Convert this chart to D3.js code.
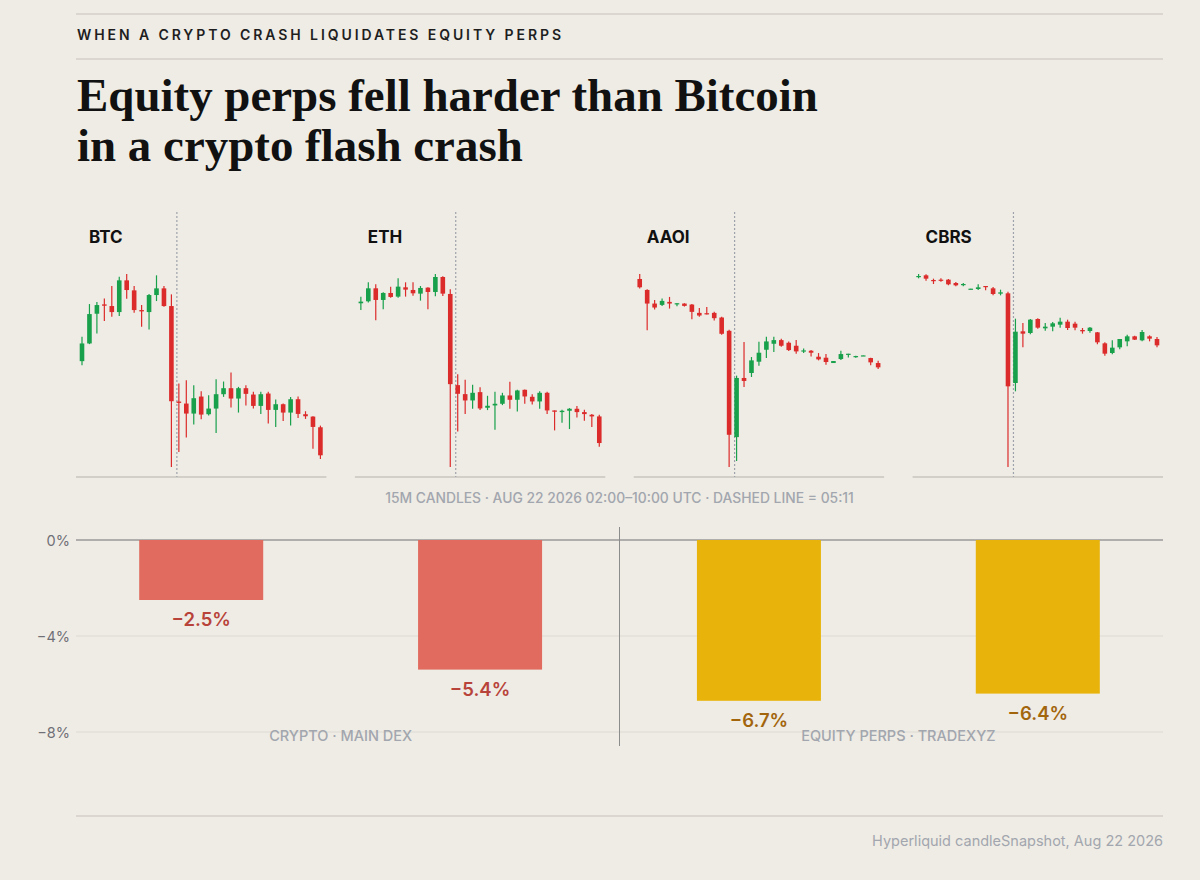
<!DOCTYPE html>
<html>
<head>
<meta charset="utf-8">
<script src="https://cdn.jsdelivr.net/npm/d3@7"></script>
<style>
  body { margin: 0; background: #efece5; }
  svg { display: block; }
</style>
</head>
<body>
<svg id="chart" width="1200" height="880"></svg>
<script>
// Tickers shown in the candle panels and the bar chart
var tickers = ["BTC", "ETH", "AAOI", "CBRS"];
var tickerGroup = ["crypto", "crypto", "equity", "equity"];

// 15m candles from 02:00 UTC, [open, high, low, close] (relative price level)
var btcCandles = [
  [51.7,59.0,50.5,57.0],[57.0,68.8,56.8,65.8],[65.9,69.4,60.0,68.5],[68.7,70.5,63.7,68.3],
  [68.2,74.2,65.0,66.4],[66.4,77.0,65.2,75.9],[75.9,77.8,70.4,73.0],[72.9,74.2,66.2,67.0],
  [67.0,68.5,62.0,66.6],[66.4,71.8,61.2,71.5],[71.5,77.4,69.7,73.5],[73.5,74.2,68.0,68.2],
  [68.2,71.7,20.0,39.7],[39.6,45.0,24.5,39.2],[39.0,46.0,28.8,36.0],[36.0,44.5,32.7,40.6],
  [41.1,42.7,34.3,35.7],[35.8,41.5,35.4,37.5],[37.5,46.3,30.2,41.8],[41.8,45.6,41.0,43.6],
  [43.6,48.3,37.8,40.5],[40.5,44.0,36.3,43.6],[43.6,44.5,38.4,41.9],[41.7,42.5,37.5,38.3],
  [38.3,42.5,35.9,41.8],[42.0,42.5,33.0,37.1],[37.1,40.2,32.0,38.8],[38.8,39.0,33.8,36.3],
  [36.3,41.0,32.4,40.3],[40.3,41.1,34.7,35.9],[35.8,36.7,34.4,35.2],[35.1,35.2,25.5,32.0],
  [31.9,32.4,22.4,23.5]
];
var ethCandles = [
  [69.0,71.0,67.0,69.5],[69.6,75.3,69.2,73.5],[73.5,74.7,63.9,70.0],[70.0,72.3,67.2,72.1],
  [72.1,74.0,70.7,70.9],[71.0,76.5,70.7,74.0],[73.8,75.3,71.0,73.1],[73.0,75.3,71.3,72.0],
  [71.9,74.2,69.8,73.6],[73.7,73.8,67.2,72.4],[72.4,77.8,71.1,76.9],[76.9,77.1,71.2,71.9],
  [71.8,73.2,19.8,44.7],[44.4,47.7,30.5,41.8],[41.7,46.0,35.7,39.8],[39.8,44.5,37.3,42.1],
  [42.3,43.8,36.9,37.4],[37.6,41.2,36.9,38.2],[38.3,42.4,31.0,38.8],[38.8,42.1,38.4,41.3],
  [41.3,45.4,37.3,40.0],[40.0,43.0,36.5,42.8],[43.0,43.1,38.8,41.0],[40.9,41.7,38.6,39.5],
  [39.5,42.6,37.3,42.1],[42.1,42.4,35.7,36.8],[36.8,36.8,30.8,36.4],[36.3,37.0,33.1,36.7],
  [36.7,37.5,31.2,37.3],[37.3,38.1,34.7,36.3],[36.3,37.0,33.7,35.7],[35.5,35.7,31.8,35.0],
  [35.0,35.5,25.9,27.0]
];
var aaoiCandles = [
  [76.3,77.8,73.4,73.8],[73.0,73.2,60.9,68.9],[68.9,70.0,67.1,67.7],[68.5,70.4,68.2,69.7],
  [69.4,70.9,67.4,68.9],[68.7,69.0,68.1,69.0],[68.9,69.0,68.0,68.2],[68.6,68.8,64.2,66.4],
  [66.1,67.6,64.9,65.3],[66.0,67.9,65.6,65.8],[66.1,66.4,63.8,64.5],[64.7,64.9,59.5,59.8],
  [60.7,61.0,19.7,29.4],[28.7,47.2,21.5,46.5],[46.5,57.3,43.8,45.6],[48.0,52.8,46.8,51.8],
  [51.4,57.4,50.2,54.1],[55.0,58.9,52.5,57.5],[56.8,58.9,54.3,57.9],[57.9,58.3,55.9,56.2],
  [57.1,57.5,54.6,54.9],[56.2,57.9,53.8,54.5],[54.5,55.4,54.0,54.8],[54.7,54.9,53.0,54.1],
  [52.9,54.0,51.8,52.1],[52.6,53.7,50.5,51.3],[51.0,51.6,51.0,51.6],[52.2,54.7,51.9,53.7],
  [53.5,53.8,52.7,53.8],[52.8,53.2,52.6,53.1],[53.1,53.3,53.1,53.3],[52.5,52.6,50.3,51.2],
  [51.0,51.7,49.2,49.7]
];
var cbrsCandles = [
  [76.8,77.7,76.4,77.1],[77.3,77.6,75.7,76.3],[75.9,76.3,74.7,75.7],[76.0,76.4,75.4,75.7],
  [76.0,76.2,74.3,74.6],[75.0,75.3,74.0,74.3],[74.4,75.0,74.0,74.7],[73.2,73.3,73.1,73.3],
  [73.2,74.6,72.9,73.7],[74.1,74.1,72.8,73.8],[73.4,73.8,71.3,71.7],[71.8,73.0,71.3,72.2],
  [71.9,72.4,19.8,44.0],[45.0,64.3,42.5,60.4],[60.5,63.0,55.7,59.8],[60.0,64.2,59.6,64.0],
  [64.2,64.4,61.3,61.6],[61.4,63.0,60.7,61.9],[61.9,63.3,60.5,62.9],[62.5,64.6,61.6,63.4],
  [63.4,64.0,60.9,61.5],[62.8,63.4,60.8,61.6],[60.9,61.5,59.8,60.5],[60.6,61.8,60.1,61.6],
  [60.2,60.3,56.6,57.2],[56.9,57.2,53.2,53.8],[54.0,57.8,53.6,55.6],[55.7,58.2,55.1,58.2],
  [57.5,59.5,56.0,59.0],[59.0,59.2,57.9,58.0],[57.8,60.9,57.5,60.3],[59.0,59.3,57.5,58.3],
  [58.2,58.8,55.7,56.3]
];

// Drop during the crash, percent
var dropPct = [-2.5, -5.4, -6.7, -6.4];
var groupNames = ["CRYPTO · MAIN DEX", "EQUITY PERPS · TRADEXYZ"];
var pctTicks = [0, -4, -8];

var kicker = "WHEN A CRYPTO CRASH LIQUIDATES EQUITY PERPS";
var titleLines = ["Equity perps fell harder than Bitcoin", "in a crypto flash crash"];
var caption = "15M CANDLES · AUG 22 2026 02:00–10:00 UTC · DASHED LINE = 05:11";
var source = "Hyperliquid candleSnapshot, Aug 22 2026";

var svg = d3.select("#chart");
var L = 76, R = 1163;
var sans = "Inter, 'Noto Sans', sans-serif";
var gray = "#a2a6ae";

svg.append("rect").attr("width", 1200).attr("height", 880).attr("fill", "#efece5");

// rules
[14, 59, 816].forEach(function(y) {
  svg.append("line").attr("x1", L).attr("x2", R).attr("y1", y).attr("y2", y)
    .attr("stroke", "#d4d0c9").attr("stroke-width", 1.3);
});

svg.append("text").attr("x", 77).attr("y", 40).text(kicker)
  .attr("font-family", sans).attr("font-weight", 600).attr("font-size", 14)
  .attr("fill", "#1e1e1e").attr("textLength", 484).attr("lengthAdjust", "spacing");

// title, sized so the first line fits the reference width
var title = svg.append("g");
titleLines.forEach(function(t, i) {
  title.append("text").attr("x", 77).attr("y", 111 + i * 50).text(t)
    .attr("font-family", "Georgia, 'Liberation Serif', serif").attr("font-weight", 700)
    .attr("font-size", 40).attr("fill", "#111");
});
var w0 = title.select("text").node().getComputedTextLength();
title.selectAll("text").attr("font-size", 40 * 741 / w0);

// candle panels
var panel = d3.scaleBand().domain(tickers).range([L, R]).paddingInner(0.102);
var t0 = new Date(Date.UTC(2026, 7, 22, 2, 0));
var t1 = new Date(Date.UTC(2026, 7, 22, 10, 0));
var crashTime = new Date(Date.UTC(2026, 7, 22, 5, 11));
var candleSets = [btcCandles, ethCandles, aaoiCandles, cbrsCandles];
var up = "#18a04b", down = "#dc2b2b";

tickers.forEach(function(tk, i) {
  var x0 = panel(tk), w = panel.bandwidth();
  var x = d3.scaleUtc().domain([t0, t1]).range([x0 + 6, x0 + w - 6]);
  var rows = candleSets[i].map(function(c, j) {
    return { t: d3.utcMinute.offset(t0, 15 * j), o: c[0], h: c[1], l: c[2], c: c[3] };
  });
  var y = d3.scaleLinear()
    .domain([d3.min(rows, d => d.l), d3.max(rows, d => d.h)])
    .range([467, 274]);
  var g = svg.append("g");

  g.append("line").attr("x1", x0).attr("x2", x0 + w).attr("y1", 477).attr("y2", 477)
    .attr("stroke", "#c9c5be").attr("stroke-width", 1.6);
  g.append("line").attr("x1", x(crashTime)).attr("x2", x(crashTime)).attr("y1", 212).attr("y2", 477)
    .attr("stroke", "#9ea3ab").attr("stroke-width", 1.2).attr("stroke-dasharray", "2,2");
  g.append("text").attr("x", x0 + 13).attr("y", 243).text(tk)
    .attr("font-family", sans).attr("font-weight", 700).attr("font-size", 17).attr("fill", "#111");

  var cg = g.selectAll("g.candle").data(rows).join("g").attr("class", "candle");
  cg.append("line")
    .attr("x1", d => x(d.t)).attr("x2", d => x(d.t))
    .attr("y1", d => y(d.h)).attr("y2", d => y(d.l))
    .attr("stroke", d => d.c >= d.o ? up : down).attr("stroke-width", 1.2);
  cg.append("rect")
    .attr("x", d => x(d.t) - 2.3).attr("width", 4.6)
    .attr("y", d => y(Math.max(d.o, d.c)))
    .attr("height", d => Math.max(1.2, Math.abs(y(d.o) - y(d.c))))
    .attr("fill", d => d.c >= d.o ? up : down);
});

svg.append("text").attr("x", (L + R) / 2).attr("y", 503).attr("text-anchor", "middle").text(caption)
  .attr("font-family", sans).attr("font-weight", 500).attr("font-size", 13.85).attr("fill", gray);

// bar chart
var yb = d3.scaleLinear().domain([0, -8]).range([540, 732]);
var pctFmt = d3.format(".0f");
var valFmt = d3.format(".1f");

pctTicks.slice().reverse().forEach(function(v) {
  svg.append("line").attr("x1", L).attr("x2", R).attr("y1", yb(v)).attr("y2", yb(v))
    .attr("stroke", v === 0 ? "#9a9a9a" : "#dedad3").attr("stroke-width", v === 0 ? 1.3 : 1.2);
  svg.append("text").attr("x", 70).attr("y", yb(v) + 5.5).attr("text-anchor", "end")
    .text(pctFmt(v) + "%")
    .attr("font-family", sans).attr("font-size", 14.5).attr("fill", "#6f7077");
});

var barFill = { crypto: "#e06b5e", equity: "#e8b30b" };
var labelFill = { crypto: "#b8433a", equity: "#a2650c" };
var barW = 124;

tickers.forEach(function(tk, i) {
  var cx = panel(tk) + panel.bandwidth() / 2;
  var v = dropPct[i];
  svg.append("rect").attr("x", cx - barW / 2).attr("width", barW)
    .attr("y", yb(0)).attr("height", yb(v) - yb(0))
    .attr("fill", barFill[tickerGroup[i]]);
  svg.append("text").attr("x", cx).attr("y", yb(v) + 26).attr("text-anchor", "middle")
    .text(valFmt(v) + "%")
    .attr("font-family", sans).attr("font-weight", 600).attr("font-size", 18.5)
    .attr("fill", labelFill[tickerGroup[i]]);
});

// divider between crypto and equity perps
var divX = (panel(tickers[1]) + panel.bandwidth() + panel(tickers[2])) / 2;
svg.append("line").attr("x1", divX).attr("x2", divX).attr("y1", 527).attr("y2", 746)
  .attr("stroke", "#8c8c8c").attr("stroke-width", 1);

groupNames.forEach(function(name, k) {
  var a = panel(tickers[2 * k]) + panel.bandwidth() / 2;
  var b = panel(tickers[2 * k + 1]) + panel.bandwidth() / 2;
  svg.append("text").attr("x", (a + b) / 2).attr("y", 740.5).attr("text-anchor", "middle").text(name)
    .attr("font-family", sans).attr("font-weight", 500).attr("font-size", 14.5).attr("fill", gray);
});

svg.append("text").attr("x", R).attr("y", 846).attr("text-anchor", "end").text(source)
  .attr("font-family", sans).attr("font-size", 14.5).attr("fill", gray);
</script>
</body>
</html>
